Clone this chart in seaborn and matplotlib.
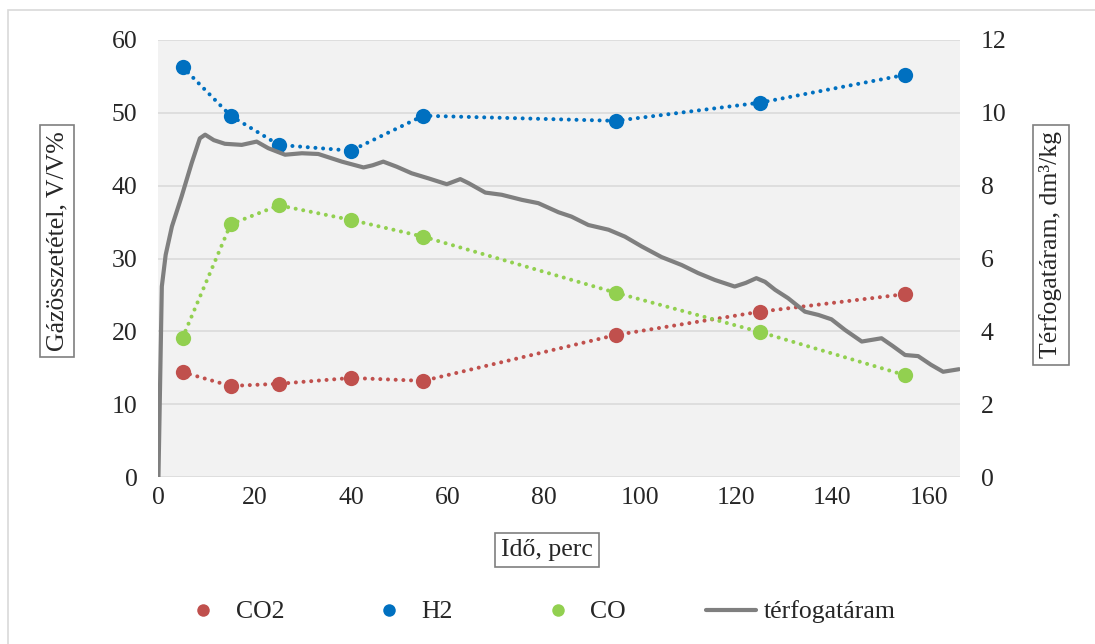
import pandas as pd
import seaborn as sns
import matplotlib.pyplot as plt
from matplotlib.lines import Line2D
from matplotlib.patches import Rectangle

# Gas composition, V/V% (sampled every few minutes)
ido_minta = [5, 15, 25, 40, 55, 95, 125, 155]
co2 = [14.4, 12.5, 12.8, 13.6, 13.2, 19.5, 22.7, 25.1]
h2 = [56.3, 49.6, 45.6, 44.8, 49.6, 48.9, 51.4, 55.2]
co = [19.1, 34.7, 37.3, 35.3, 33.0, 25.3, 19.9, 14.0]

# Volume flow, dm3/kg
ido_vol = [0, 0.7, 1.5, 2.8, 4.8, 6.9, 8.6, 9.7, 11.5, 13.8, 17.3, 20.4, 22.8,
           26.3, 29.8, 33.2, 38.1, 42.6, 44.5, 46.7, 49.5, 52.6, 56.1, 59.9,
           62.7, 64.4, 67.9, 71.3, 75.5, 78.9, 83.1, 85.8, 89.3, 93.5, 96.9,
           100.4, 104.5, 108.7, 112.1, 115.6, 119.7, 122.0, 124.2, 126.0,
           128.1, 130.8, 134.3, 137.1, 139.8, 142.6, 146.1, 150.2, 152.5,
           155.1, 157.8, 160.5, 163.0, 166.3]
terfogataram = [0, 5.23, 6.1, 6.88, 7.7, 8.62, 9.3, 9.4, 9.25, 9.15, 9.12,
                9.21, 9.03, 8.85, 8.89, 8.87, 8.66, 8.5, 8.56, 8.66, 8.52, 8.34,
                8.2, 8.04, 8.18, 8.07, 7.81, 7.75, 7.61, 7.52, 7.27, 7.15, 6.92,
                6.79, 6.6, 6.33, 6.04, 5.82, 5.6, 5.41, 5.23, 5.33, 5.46, 5.36,
                5.14, 4.91, 4.54, 4.45, 4.33, 4.04, 3.72, 3.81, 3.6, 3.35, 3.32,
                3.08, 2.89, 2.96]

gaz = pd.DataFrame({'ido': ido_minta, 'CO2': co2, 'H2': h2, 'CO': co})
vol = pd.DataFrame({'ido': ido_vol, 'terfogataram': terfogataram})

sns.set_style('white')
plt.rcParams['font.family'] = ['Liberation Serif', 'DejaVu Serif']
FS = 18.5

szinek = {'CO2': '#C0504D', 'H2': '#0070C0', 'CO': '#92D050'}
pont = (0, (0.01, 1.9))

fig = plt.figure(figsize=(10.95, 6.44), dpi=100)
ax = fig.add_axes([0.1447, 0.2593, 0.8767 - 0.1447, 0.9379 - 0.2593])
ax.set_facecolor('#F2F2F2')

for nev in ['CO2', 'H2', 'CO']:
    sns.lineplot(data=gaz, x='ido', y=nev, ax=ax, color=szinek[nev],
                 marker='o', markersize=11, markeredgewidth=0,
                 linewidth=2.9, linestyle=pont, dash_capstyle='round')

ax.set_xlim(0, 166.5)
ax.set_ylim(0, 60)
ax.set_xticks(range(0, 161, 20))
ax.set_yticks(range(0, 61, 10))
ax.grid(axis='y', color='#D9D9D9', linewidth=1.1)
ax.set_axisbelow(True)
ax.tick_params(axis='both', length=0, labelsize=FS)
ax.tick_params(axis='x', pad=7)
ax.tick_params(axis='y', pad=15)
ax.set_xlabel('')
ax.set_ylabel('')
for s in ax.spines.values():
    s.set_visible(False)

ax2 = ax.twinx()
sns.lineplot(data=vol, x='ido', y='terfogataram', ax=ax2, color='#7F7F7F',
             linewidth=3.0, solid_joinstyle='round', solid_capstyle='round')
ax2.set_ylim(0, 12)
ax2.set_yticks(range(0, 13, 2))
ax2.tick_params(axis='y', length=0, labelsize=FS, pad=15)
ax2.set_ylabel('')
ax2.grid(False)
for s in ax2.spines.values():
    s.set_visible(False)

# boxed axis titles
doboz = dict(boxstyle='square,pad=0.25', fc='white', ec='#7F7F7F', lw=1.2)
fig.text(547 / 1095, 1 - 550 / 644, 'Idő, perc', ha='center', va='center',
         fontsize=FS, bbox=doboz)
fig.text(57 / 1095, 1 - 241 / 644, 'Gázösszetétel, V/V%', ha='center',
         va='center', rotation=90, fontsize=FS, bbox=doboz)
fig.text(1051 / 1095, 1 - 245 / 644, 'Térfogatáram, dm³/kg', ha='center',
         va='center', rotation=90, fontsize=FS, bbox=doboz)

# legend along the bottom
kezek = [Line2D([], [], color=szinek[n], marker='o', markersize=9,
                markeredgewidth=0, linestyle='None') for n in ['CO2', 'H2', 'CO']]
kezek.append(Line2D([], [], color='#7F7F7F', linewidth=3.0))
fig.legend(kezek, ['CO2', 'H2', 'CO', 'térfogatáram'], loc='center',
           bbox_to_anchor=(0.49, 1 - 612 / 644), ncol=4, frameon=False,
           fontsize=FS, handlelength=1.95, handletextpad=0.3, columnspacing=3.1)

# light outer frame of the chart
fig.patches.append(Rectangle((8 / 1095, -0.01), 1.02, 1 - 10 / 644 + 0.01,
                             transform=fig.transFigure, fill=False,
                             ec='#D9D9D9', lw=1.2))

fig.savefig('out.png', dpi=100)
plt.close(fig)
